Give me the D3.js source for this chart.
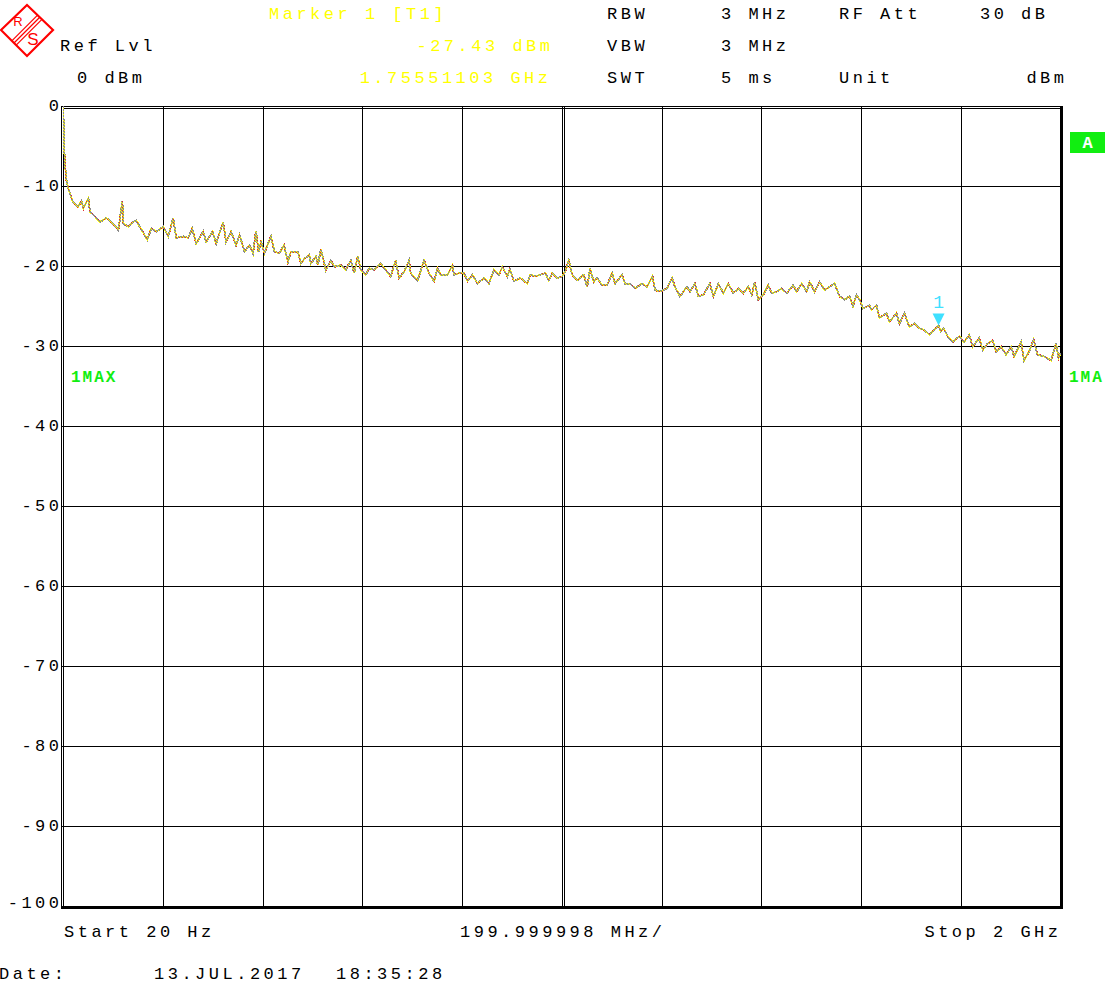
<!DOCTYPE html>
<html><head><meta charset="utf-8">
<script src="https://cdn.jsdelivr.net/npm/d3@7/dist/d3.min.js"></script>
<style>body{margin:0;background:#fff}svg{display:block}</style>
</head><body><svg id="c" width="1120" height="986"></svg>
<script>
// ---- data ----
const freqMHz = [
  0,1,2,3,5,7,10,14,20,30,
  37,41,51,54,64,74,87,97,111,119,
  121,131,141,147,154,169,177,187,201,211,
  221,227,241,251,259,267,281,287,300,307,
  321,327,337,347,354,364,374,381,387,392,
  397,404,411,417,424,434,443,451,457,471,
  477,484,494,497,507,511,517,527,537,544,
  557,567,577,584,591,597,607,614,624,637,
  647,657,667,674,684,694,697,711,724,734,
  744,751,757,771,781,784,794,804,811,821,
  831,844,854,864,874,881,891,896,904,917,
  931,937,947,957,967,974,981,991,1001,1007,
  1014,1021,1031,1044,1051,1057,1064,1071,1081,1091,
  1101,1107,1121,1127,1137,1147,1161,1171,1182,1187,
  1197,1211,1221,1227,1237,1251,1257,1267,1274,1284,
  1297,1304,1314,1324,1334,1344,1354,1364,1374,1381,
  1387,1394,1404,1414,1421,1431,1441,1451,1464,1471,
  1481,1491,1497,1507,1517,1527,1537,1547,1557,1567,
  1577,1584,1591,1597,1604,1617,1621,1631,1637,1651,
  1657,1671,1677,1687,1697,1707,1717,1727,1737,1745,
  1755.5,1760,1766,1774,1784,1797,1807,1817,1824,1837,
  1844,1854,1864,1871,1881,1891,1901,1907,1921,1927,
  1937,1946,1954,1967,1981,1991,1996,2000
];
const levelDbm = [
  0,-1.5,-4,-6,-8,-9.3,-10.2,-10.9,-12,-12.6,
  -11.9,-12.8,-11.5,-13.2,-13.8,-14.5,-14,-14.5,-15.5,-11.9,
  -14.7,-15.1,-14.5,-14.3,-15.1,-16.7,-15.3,-15.7,-15.1,-16.3,
  -14,-16.5,-16.3,-16.5,-15.3,-17.2,-15.7,-17,-15.7,-17.2,
  -14.5,-17,-15.7,-17.4,-16.1,-18.2,-17.4,-18.4,-15.6,-18.2,
  -17,-18.4,-17.2,-16.3,-18.2,-18.4,-17.4,-19.5,-18.2,-18.2,
  -19.7,-19.1,-18.6,-19.7,-18.8,-19.9,-17.9,-20.5,-19.3,-20.1,
  -19.9,-20.5,-19.3,-20.9,-18.8,-20.5,-21.1,-20.3,-20.5,-19.7,
  -20.5,-21.3,-19.3,-21.5,-20.7,-19.3,-20.9,-21.8,-19.3,-20.9,
  -21.9,-20.3,-21.1,-21.1,-19.9,-21.1,-20.9,-20.9,-21.9,-21.1,
  -22.2,-21.5,-22.2,-20.5,-21.1,-20.1,-21.3,-20.4,-21.9,-21.5,
  -22.2,-21.1,-21.3,-21.1,-20.9,-21.8,-20.9,-21.5,-21.3,-20.7,
  -19.3,-21.1,-21.8,-21.1,-22.6,-20.3,-22,-21.5,-22.4,-22.4,
  -20.9,-22.2,-21.1,-22.2,-22.2,-22.8,-22.2,-22.6,-21.3,-23,
  -23.2,-22.8,-21.5,-22.6,-23.8,-22.6,-23.2,-22.2,-23.8,-23.6,
  -22.2,-23.8,-22.2,-23.4,-22.2,-23.4,-22.8,-23.4,-22.6,-23.6,
  -22,-24.2,-23.6,-22.4,-23.4,-23.2,-22.8,-23.4,-22.4,-23.2,
  -22.2,-23.2,-22,-23.2,-22,-23,-22.6,-22.2,-23.8,-24.2,
  -23.8,-25,-23.6,-24.2,-25.3,-24.9,-25.5,-24.9,-26.5,-25.9,
  -27,-25.9,-27.2,-25.9,-27.6,-27.2,-27.8,-28,-28.6,-28.1,
  -27.43,-28.2,-27.8,-28.8,-29.5,-28.8,-29.5,-28.6,-30.1,-29,
  -30.5,-29.7,-29.3,-30.7,-30.1,-31.1,-30.1,-31.3,-29.5,-31.8,
  -30.7,-29.2,-31.1,-31.3,-31.8,-29.7,-31.5,-30.9
];
const gridFreqMHz = [0,200,400,600,800,1000,1200,1400,1600,1800,2000];
const gridDbm = [0,-10,-20,-30,-40,-50,-60,-70,-80,-90,-100];
const yTickLabels = ["0","-10","-20","-30","-40","-50","-60","-70","-80","-90","-100"];
const markerFreqMHz = [1755.51103];
const markerDbm = [-27.43];
const markerLabels = ["1"];
const headerRow1 = ["Marker 1 [T1]","RBW","3 MHz","RF Att","30 dB"];
const headerRow2 = ["Ref Lvl","-27.43 dBm","VBW","3 MHz"];
const headerRow3 = ["0 dBm","1.75551103 GHz","SWT","5 ms","Unit","dBm"];
const footerTexts = ["Start 20 Hz","199.999998 MHz/","Stop 2 GHz"];
const dateTexts = ["Date:","13.JUL.2017","18:35:28"];
const traceLabels = ["1MAX","1MA"];

// ---- drawing ----
const svg = d3.select("#c");
const FONT = "'Liberation Mono','DejaVu Sans Mono',monospace";
const YEL = "#ffff00", GRN = "#11ee11", CYAN = "#3fe0ff";

const x = d3.scaleLinear().domain([0,2000]).range([63,1060.5]);
const y = d3.scaleLinear().domain([0,-100]).range([106,906]);

// dither pattern for trace (yellow / gray / red speckle)
const defs = svg.append("defs");
const pat = defs.append("pattern").attr("id","dither").attr("patternUnits","userSpaceOnUse")
  .attr("width",3).attr("height",3);
const cells = ["Y","G","R","G","Y","G","G","G","Y"];
const cmap = {Y:"#ffff00",G:"#8c8c8c",R:"#e03030"};
cells.forEach((c,i)=>pat.append("rect").attr("x",i%3).attr("y",Math.floor(i/3))
  .attr("width",1).attr("height",1).attr("fill",cmap[c]));
defs.append("clipPath").attr("id","plotclip").append("rect")
  .attr("x",63).attr("y",105).attr("width",998).attr("height",802);

function txt(g, s, px, py, opts={}) {
  return g.append("text").attr("x",px).attr("y",py).text(s)
    .attr("font-family",FONT).attr("font-size",opts.size||17)
    .attr("letter-spacing",opts.ls!==undefined?opts.ls:3.5)
    .attr("fill",opts.fill||"#000")
    .attr("font-weight",opts.bold?"bold":"normal")
    .attr("text-anchor",opts.anchor||"start");
}

// grid
const grid = svg.append("g").attr("shape-rendering","crispEdges");
grid.selectAll(".v").data(gridFreqMHz.slice(1,-1)).join("line")
  .attr("x1",d=>Math.round(x(d))+0.5).attr("x2",d=>Math.round(x(d))+0.5)
  .attr("y1",106).attr("y2",906).attr("stroke","#000").attr("stroke-width",1);
grid.append("line").attr("x1",Math.round(x(1000))+2.5).attr("x2",Math.round(x(1000))+2.5)
  .attr("y1",106).attr("y2",906).attr("stroke","#000");
grid.selectAll(".h").data(gridDbm.slice(1,-1)).join("line")
  .attr("y1",d=>Math.round(y(d))+0.5).attr("y2",d=>Math.round(y(d))+0.5)
  .attr("x1",61).attr("x2",1060).attr("stroke","#000").attr("stroke-width",1);
// frame
grid.append("line").attr("x1",61).attr("x2",1062).attr("y1",106.5).attr("y2",106.5).attr("stroke","#000");
grid.append("line").attr("x1",63).attr("x2",1062).attr("y1",108.5).attr("y2",108.5).attr("stroke","#000");
grid.append("line").attr("x1",61.5).attr("x2",61.5).attr("y1",106).attr("y2",909).attr("stroke","#000");
grid.append("line").attr("x1",63.5).attr("x2",63.5).attr("y1",106).attr("y2",909).attr("stroke","#000");
grid.append("rect").attr("x",61).attr("y",906).attr("width",1002).attr("height",3).attr("fill","#000");
grid.append("rect").attr("x",1060).attr("y",106).attr("width",3).attr("height",803).attr("fill","#000");

// y axis labels
const yAxis = d3.axisLeft(y).tickValues(gridDbm).tickSize(0).tickPadding(0)
  .tickFormat((d,i)=>yTickLabels[i]);
const ya = svg.append("g").attr("transform","translate(59,0)").call(yAxis);
ya.select(".domain").remove();
ya.selectAll("text").attr("font-family",FONT).attr("font-size",17)
  .attr("letter-spacing",3.5).attr("fill","#000").attr("dy",null)
  .attr("dx",3.5)
  .attr("y",d=>d===-100?1:4.5);

// trace
const pts = freqMHz.map((f,i)=>[f,levelDbm[i]]);
svg.append("path").datum(pts)
  .attr("clip-path","url(#plotclip)")
  .attr("d",d3.line().x(d=>x(d[0])).y(d=>y(d[1])))
  .attr("fill","none").attr("stroke","url(#dither)").attr("stroke-width",2)
  .attr("stroke-linejoin","miter").attr("shape-rendering","crispEdges");

// marker
const mk = svg.append("g");
markerFreqMHz.forEach((f,i)=>{
  const mx = x(f), my = y(markerDbm[i]);
  mk.append("path").attr("d",`M${mx-6},${my-12}L${mx+6},${my-12}L${mx},${my}Z`).attr("fill",CYAN);
  txt(mk, markerLabels[i], mx, my-17, {fill:CYAN, size:18, ls:0, anchor:"middle"});
});

// trace labels
txt(svg, traceLabels[0], 71, 382, {fill:GRN, bold:true, size:16, ls:2});
txt(svg, traceLabels[1], 1069, 382, {fill:GRN, bold:true, size:16, ls:2});
svg.append("rect").attr("x",1070).attr("y",132).attr("width",35).attr("height",21).attr("fill",GRN);
txt(svg, "A", 1087.5, 148, {fill:"#fff", bold:true, size:17, ls:0, anchor:"middle"});

// header
const hdr = svg.append("g");
txt(hdr, headerRow1[0], 269, 19, {fill:YEL});
txt(hdr, headerRow1[1], 607, 19);
txt(hdr, headerRow1[2], 721, 19);
txt(hdr, headerRow1[3], 839, 19);
txt(hdr, headerRow1[4], 980, 19);
txt(hdr, headerRow2[0], 60, 51);
txt(hdr, headerRow2[1], 553.5, 51, {fill:YEL, anchor:"end"});
txt(hdr, headerRow2[2], 607, 51);
txt(hdr, headerRow2[3], 721, 51);
txt(hdr, headerRow3[0], 77, 83);
txt(hdr, headerRow3[1], 551.5, 83, {fill:YEL, anchor:"end"});
txt(hdr, headerRow3[2], 607, 83);
txt(hdr, headerRow3[3], 721, 83);
txt(hdr, headerRow3[4], 839, 83);
txt(hdr, headerRow3[5], 1067.5, 83, {anchor:"end"});

// footer
txt(svg, footerTexts[0], 64, 937);
txt(svg, footerTexts[1], 460, 937);
txt(svg, footerTexts[2], 1061.5, 937, {anchor:"end"});
txt(svg, dateTexts[0], -1, 979);
txt(svg, dateTexts[1], 154, 979);
txt(svg, dateTexts[2], 336, 979);

// R&S logo
const lg = svg.append("g").attr("transform","translate(27,30)");
lg.append("path").attr("d","M0,-25L26,0L0,26L-26,0Z").attr("fill","none")
  .attr("stroke","#ff0000").attr("stroke-width",2.2);
[-2.2,0,2.2].forEach(k=>lg.append("line")
  .attr("x1",-13+k).attr("y1",13+k).attr("x2",13+k).attr("y2",-13+k)
  .attr("stroke","#ff0000").attr("stroke-width",1.2));
lg.append("text").attr("x",-9).attr("y",-4).text("R").attr("text-anchor","middle")
  .attr("font-family","'Liberation Sans',sans-serif").attr("font-size",13).attr("fill","#ff0000");
lg.append("text").attr("x",6).attr("y",15).text("S").attr("text-anchor","middle")
  .attr("font-family","'Liberation Sans',sans-serif").attr("font-size",17).attr("fill","#ff0000");
</script></body></html>
